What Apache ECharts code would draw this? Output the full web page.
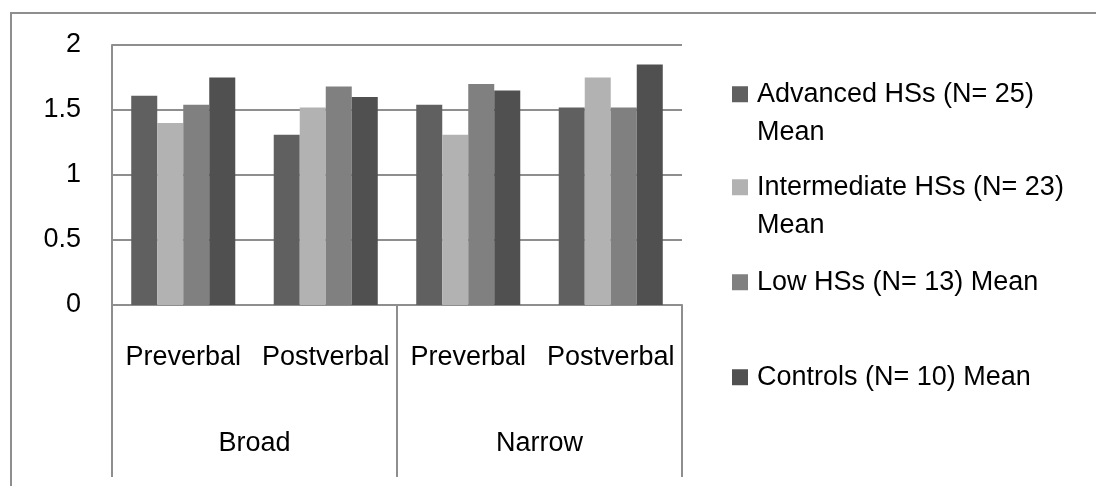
<!DOCTYPE html>
<html>
<head>
<meta charset="utf-8">
<script src="https://cdn.jsdelivr.net/npm/echarts@6/dist/echarts.min.js"></script>
<style>
  html, body { margin: 0; padding: 0; background: #fff; }
  #wrap { position: relative; width: 1096px; height: 486px; overflow: hidden; }
  /* chart-area frame (left and top edges visible) */
  #frame { position: absolute; left: 10px; top: 12px; width: 1200px; height: 600px;
           border-left: 2px solid #8e8e8e; border-top: 2px solid #8e8e8e; }
  #chart { position: absolute; left: 0; top: 0; width: 1096px; height: 486px; }
</style>
</head>
<body>
<div id="wrap">
  <div id="frame"></div>
  <div id="chart"></div>
</div>
<script>
// Sub-categories (inner level) and groups (outer level) of the x axis
const categories = ['Preverbal', 'Postverbal', 'Preverbal', 'Postverbal'];
const groups = ['Broad', 'Narrow'];

// Series names as shown in the legend
const seriesNames = [
  'Advanced HSs (N= 25)\nMean',
  'Intermediate HSs (N= 23)\nMean',
  'Low HSs (N= 13) Mean',
  'Controls (N= 10) Mean'
];

// Mean values per category (Broad Pre, Broad Post, Narrow Pre, Narrow Post)
const advanced = [1.61, 1.31, 1.54, 1.52];
const intermediate = [1.40, 1.52, 1.31, 1.75];
const low = [1.54, 1.68, 1.70, 1.52];
const controls = [1.75, 1.60, 1.65, 1.85];

// Value axis range
const yMin = 0, yMax = 2, yStep = 0.5;

const seriesValues = [advanced, intermediate, low, controls];
const colors = ['#606060', '#b2b2b2', '#808080', '#505050'];

const FONT = '"Liberation Sans", Arial, sans-serif';
const FS = 27;
const LH = 38.5;
const SQ = 16;
const lineColor = '#8e8e8e';

const chart = echarts.init(document.getElementById('chart'), null, { renderer: 'canvas' });

// For two-line entries the swatch sits at the top of a taller icon box,
// so it lines up with the first text line instead of the middle of both.
const tallH = SQ + LH;
const tallIcon = 'path://M0,0h16v16h-16z M0,' + (tallH - 0.01) + 'h0.01v0.01h-0.01z';

// one legend per entry so each sits in its own slot
const legendTops = [75, 168, 263, 358];
const legends = seriesNames.map((name, i) => {
  const twoLine = name.indexOf('\n') >= 0;
  return {
    data: [name],
    orient: 'vertical',
    left: 732,
    top: legendTops[i],
    padding: 0,
    icon: twoLine ? tallIcon : 'rect',
    itemWidth: SQ,
    itemHeight: twoLine ? tallH : SQ,
    selectedMode: false,
    textStyle: {
      fontFamily: FONT,
      fontSize: FS,
      color: '#000',
      lineHeight: LH,
      padding: [0, 0, 0, 4]
    }
  };
});

chart.setOption({
  backgroundColor: 'transparent',
  animation: false,
  color: colors,
  legend: legends,
  grid: { left: 112, right: 414, top: 45, bottom: 181, containLabel: false },
  xAxis: [
    {
      type: 'category',
      data: categories,
      position: 'bottom',
      axisLine: { show: true, lineStyle: { color: lineColor, width: 2 } },
      axisTick: { show: false },
      axisLabel: { margin: 39, fontFamily: FONT, fontSize: FS, color: '#000', interval: 0 }
    },
    {
      type: 'category',
      data: groups,
      position: 'bottom',
      offset: 0,
      axisLine: { show: false },
      axisTick: { show: true, length: 172, interval: 0, lineStyle: { color: lineColor, width: 2 } },
      axisLabel: { margin: 125, fontFamily: FONT, fontSize: FS, color: '#000', interval: 0 }
    }
  ],
  yAxis: {
    type: 'value',
    min: yMin,
    max: yMax,
    interval: yStep,
    axisLine: { show: true, lineStyle: { color: lineColor, width: 2 } },
    axisTick: { show: false },
    splitLine: { show: true, lineStyle: { color: lineColor, width: 2 } },
    axisLabel: { margin: 31, fontFamily: FONT, fontSize: FS, color: '#000' }
  },
  series: seriesValues.map((vals, i) => ({
    name: seriesNames[i],
    type: 'bar',
    data: vals,
    xAxisIndex: 0,
    barGap: '0%',
    barCategoryGap: '27%',
    itemStyle: { color: colors[i] }
  }))
});
</script>
</body>
</html>
